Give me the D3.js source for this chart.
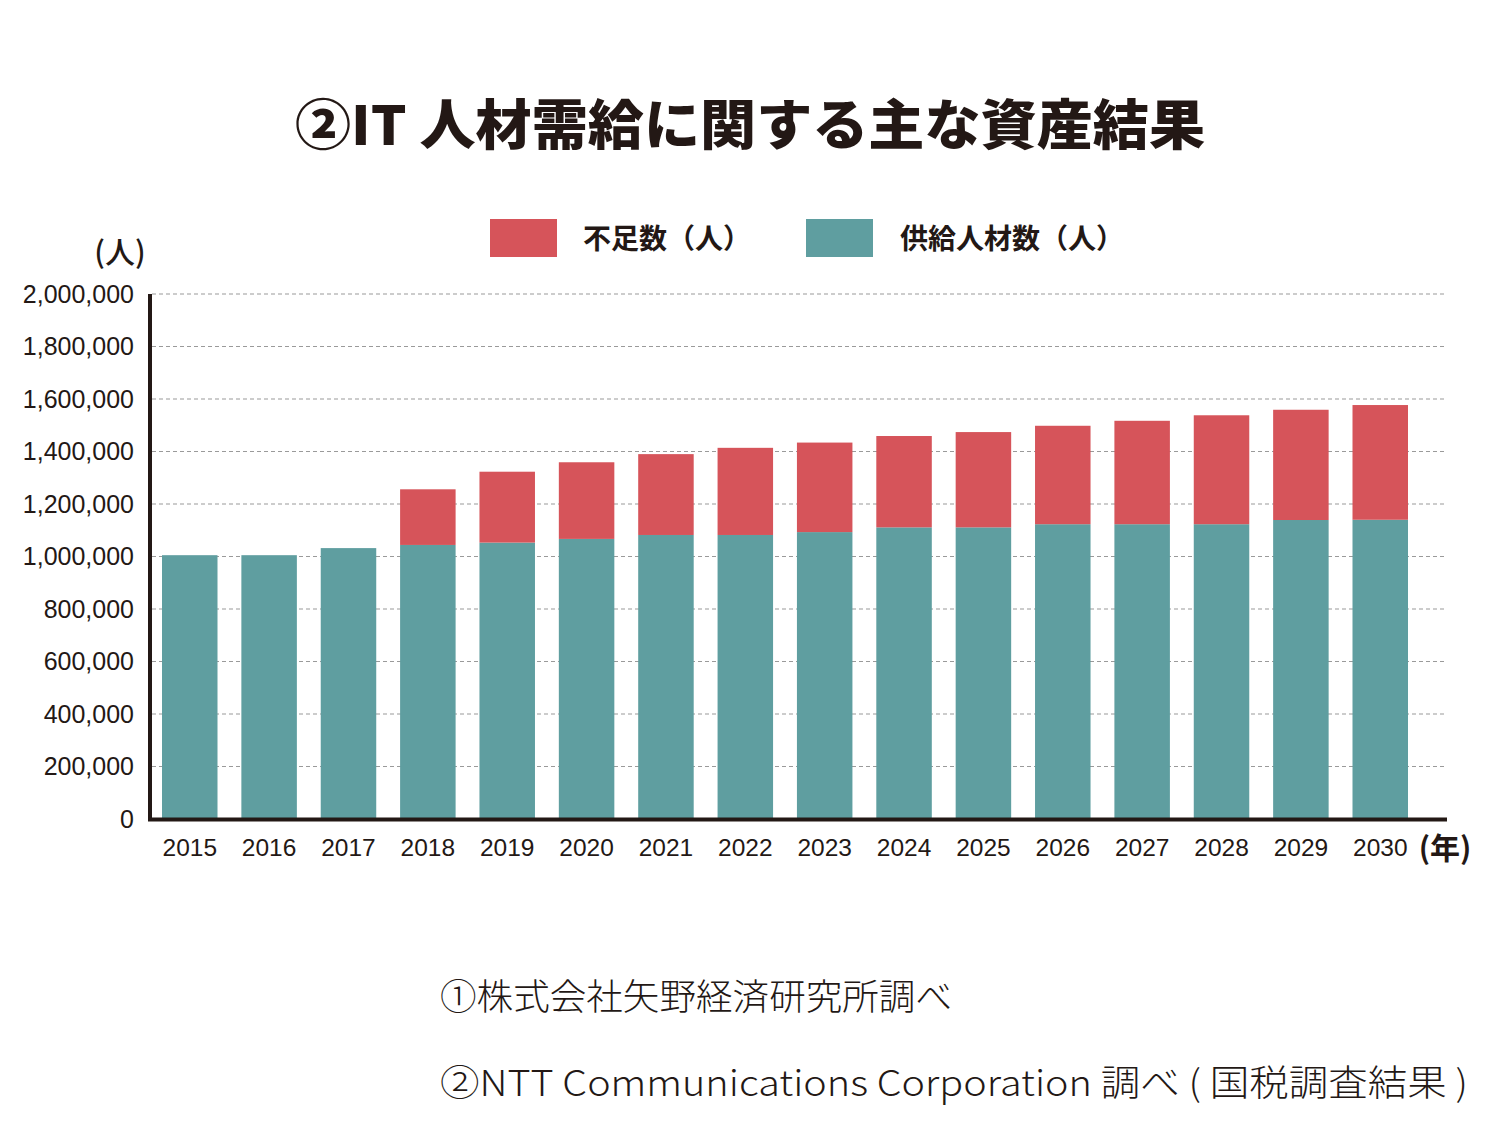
<!DOCTYPE html>
<html><head><meta charset="utf-8">
<script src="https://cdn.jsdelivr.net/npm/d3@7/dist/d3.min.js"></script>
<style>
html,body{margin:0;padding:0;background:#fff;}
svg{display:block;}
</style></head>
<body>
<svg id="chart" width="1500" height="1141"></svg>
<script>
const years = ["2015","2016","2017","2018","2019","2020","2021","2022","2023","2024","2025","2026","2027","2028","2029","2030"];
const supply = [1005000,1005000,1032000,1044000,1053000,1067000,1082000,1082000,1093000,1111000,1111000,1123000,1123000,1123000,1139000,1140000];
const shortage = [0,0,0,212000,270000,292000,308000,332000,341000,348000,363000,375000,394000,415000,420000,437000];
const yTicks = [0,200000,400000,600000,800000,1000000,1200000,1400000,1600000,1800000,2000000];
const seriesNames = ["不足数（人）","供給人材数（人）"];
const colors = {shortage:"#d6545a", supply:"#5f9ea0"};
const title = "②IT 人材需給に関する主な資産結果";
const notes = ["①株式会社矢野経済研究所調べ","②NTT Communications Corporation 調べ ( 国税調査結果 )"];

const svg = d3.select("#chart");
const CJK = "'Noto Sans CJK JP', sans-serif";
const LAT = "'Liberation Sans', Arial, sans-serif";

const x = d3.scaleBand().domain(years).range([162, 1408]).paddingInner(0.3007).paddingOuter(0);
const y = d3.scaleLinear().domain([0, 2000000]).range([819, 294]);

// gridlines
svg.append("g").selectAll("line").data(yTicks.filter(d=>d>0)).join("line")
  .attr("x1",152).attr("x2",1447)
  .attr("y1",d=>y(d)).attr("y2",d=>y(d))
  .attr("stroke","#9a9a9a").attr("stroke-width",1.2).attr("stroke-dasharray","4,3");

// stacked data
const rows = years.map((yr,i)=>({year:yr, supply:supply[i], shortage:shortage[i]}));
const stack = d3.stack().keys(["supply","shortage"])(rows);
svg.append("g").selectAll("g").data(stack).join("g")
  .attr("fill",d=>colors[d.key])
  .selectAll("rect").data(d=>d).join("rect")
  .attr("x",d=>x(d.data.year))
  .attr("width",x.bandwidth())
  .attr("y",d=>y(d[1]))
  .attr("height",d=>Math.max(0,y(d[0])-y(d[1])));

// y axis
const yAxis = d3.axisLeft(y).tickValues(yTicks).tickSize(0).tickPadding(16)
  .tickFormat(d3.format(","));
const ya = svg.append("g").attr("transform","translate(150,0)").call(yAxis);
ya.select(".domain").remove();
ya.selectAll("text").attr("font-family",LAT).attr("font-size",25).attr("fill","#231815");
svg.append("line").attr("x1",150).attr("x2",150).attr("y1",294).attr("y2",821)
  .attr("stroke","#231815").attr("stroke-width",4);

// x axis
const xAxis = d3.axisBottom(x).tickSize(0).tickPadding(20);
const xa = svg.append("g").attr("transform","translate(0,819)").call(xAxis);
xa.select(".domain").remove();
xa.selectAll("text").attr("font-family",LAT).attr("font-size",24.5).attr("fill","#231815");
svg.append("line").attr("x1",148).attr("x2",1447).attr("y1",819.5).attr("y2",819.5)
  .attr("stroke","#231815").attr("stroke-width",4);

// unit labels
svg.append("text").attr("x",120).attr("y",263).attr("text-anchor","middle")
  .attr("font-family",CJK).attr("font-size",30).attr("font-weight",500).attr("fill","#231815").text("(人)");
svg.append("text").attr("x",1445).attr("y",859).attr("text-anchor","middle")
  .attr("font-family",CJK).attr("font-size",30).attr("font-weight",700).attr("fill","#231815").text("(年)");

// title
svg.append("text").attr("x",750).attr("y",145).attr("text-anchor","middle")
  .attr("font-family",CJK).attr("font-size",54).attr("font-weight",800).attr("fill","#231815")
  .attr("textLength",910).attr("lengthAdjust","spacingAndGlyphs").text(title);

// legend
const legend = [{name:seriesNames[0], c:colors.shortage, x:490, tx:583},{name:seriesNames[1], c:colors.supply, x:806, tx:900}];
const lg = svg.append("g").selectAll("g").data(legend).join("g");
lg.append("rect").attr("x",d=>d.x).attr("y",219).attr("width",67).attr("height",38).attr("fill",d=>d.c);
lg.append("text").attr("x",d=>d.tx).attr("y",249).attr("font-family",CJK).attr("font-size",28)
  .attr("font-weight",700).attr("fill","#231815").text(d=>d.name);

// notes
svg.append("text").attr("x",440).attr("y",1010).attr("font-family",CJK).attr("font-size",36)
  .attr("font-weight",300).attr("fill","#231815").attr("textLength",512).attr("lengthAdjust","spacingAndGlyphs").text(notes[0]);
svg.append("text").attr("x",440).attr("y",1096).attr("font-family",CJK).attr("font-size",36)
  .attr("font-weight",300).attr("fill","#231815").attr("textLength",1028).attr("lengthAdjust","spacingAndGlyphs").text(notes[1]);
</script>
</body></html>
